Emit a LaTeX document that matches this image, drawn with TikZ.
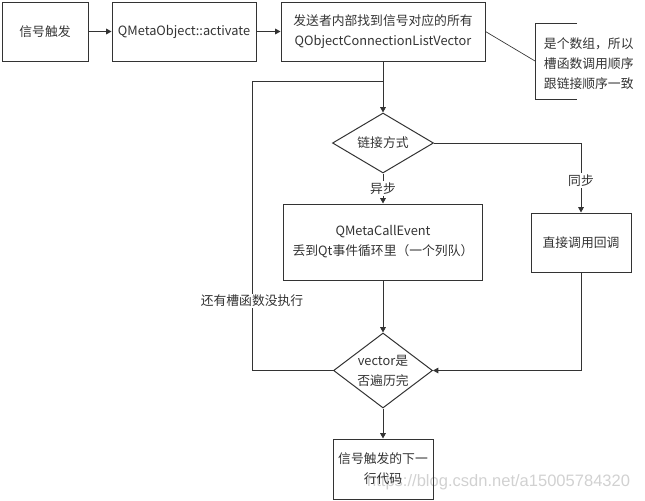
\documentclass[tikz,border=0pt]{standalone}
\usepackage{fontspec}
\setmainfont{Noto Sans CJK SC}
\newfontfamily\wmfont{Liberation Sans}
\usetikzlibrary{arrows.meta,shapes.geometric}
\definecolor{ln}{HTML}{333333}
\newcommand{\pxu}{0.75pt}
\tikzset{
  box/.style={draw=ln, text=ln, align=center, inner sep=0pt},
  dia/.style={draw=ln, text=ln, diamond, align=center, inner sep=0pt},
  lbl/.style={fill=white, text=ln, inner sep=1pt},
}
\begin{document}
\begin{tikzpicture}[x=0.75pt,y=-0.75pt,line width=0.75pt,>={Triangle[length=4pt,width=4.2pt]},
  font=\fontsize{9.6}{15}\selectfont]
\useasboundingbox (0,0) rectangle (645,500);

\node[anchor=base east,text=black!18,font=\wmfont\fontsize{12.4}{14}\selectfont] (wm) at (635,486) {https://blog.csdn.net/a15005784320};

\node[box,minimum width=86*\pxu,minimum height=59*\pxu] (trig) at (45,31.5) {信号触发};
\node[box,minimum width=144*\pxu,minimum height=59*\pxu] (activate) at (184,31.5) {QMetaObject::activate};
\node[box,minimum width=204*\pxu,minimum height=59*\pxu] (find) at (383,31.5) {发送者内部找到信号对应的所有\\QObjectConnectionListVector};
\node[text=ln,anchor=west,align=left] (note) at (539,64) {是个数组，所以\\槽函数调用顺序\\跟链接顺序一致};
\node[dia,minimum width=101*\pxu,minimum height=60*\pxu,aspect=1.68] (mode) at (383,143) {链接方式};
\node[box,minimum width=199*\pxu,minimum height=76*\pxu] (async) at (383,242) {QMetaCallEvent\\丢到Qt事件循环里（一个列队）};
\node[box,minimum width=100*\pxu,minimum height=59*\pxu] (sync) at (581,242.5) {直接调用回调};
\node[dia,minimum width=99*\pxu,minimum height=75*\pxu,aspect=1.32] (done) at (383,370.5) {vector是\\否遍历完};
\node[box,minimum width=100*\pxu,minimum height=60*\pxu] (next) at (383,469) {信号触发的下一\\行代码};

\coordinate (brk) at (535,61);
\coordinate (jn) at (383,81);
\coordinate (lp) at (252,81);

\draw[ln] (577,23) -- (535,23) -- (535,99) -- (577,99);
\draw[ln,line width=0.5pt] (find.east) -- (brk);

\draw[->,ln] (trig) -- (activate);
\draw[->,ln] (activate) -- (find);
\draw[->,ln] (find) -- (mode);
\draw[->,ln] (mode) -- node[lbl] {异步} (async);
\draw[->,ln] (mode.east) -| node[lbl,pos=0.77] {同步} (sync.north);
\draw[->,ln] (async) -- (done);
\draw[->,ln] (sync.south) |- (done.east);
\draw[->,ln] (done) -- (next);
\draw[ln] (done.west) -| node[lbl,pos=0.62] {还有槽函数没执行} (lp) -- (jn);
\end{tikzpicture}
\end{document}
